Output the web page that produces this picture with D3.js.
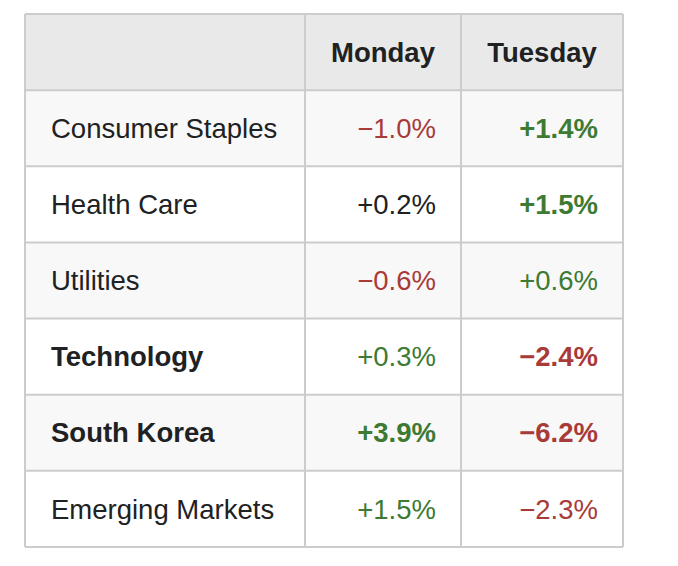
<!DOCTYPE html>
<html><head><meta charset="utf-8">
<script src="https://cdn.jsdelivr.net/npm/d3@7"></script>
<style>body{margin:0;background:#fff}</style></head>
<body><svg id="c" width="678" height="566"></svg>
<script>
const columns = ["", "Monday", "Tuesday"];
const sectors = ["Consumer Staples","Health Care","Utilities","Technology","South Korea","Emerging Markets"];
const monday = [-1.0, 0.2, -0.6, 0.3, 3.9, 1.5];
const tuesday = [1.4, 1.5, 0.6, -2.4, -6.2, -2.3];
const boldRows = ["Technology","South Korea"];
const boldMonday = [false,false,false,false,true,false];
const boldTuesday = [true,true,false,true,true,false];

const svg = d3.select("#c");
const colEdges = [25, 305, 461, 623];
const y = d3.scaleBand().domain(d3.range(7)).range([14, 547]);
const font = "'Liberation Sans', Arial, Helvetica, sans-serif";
const fs = 27.5;
const fmt = v => (v < 0 ? "\u2212" : "+") + Math.abs(v).toFixed(1) + "%";

svg.selectAll("rect.bg").data(d3.range(7)).join("rect")
  .attr("x", colEdges[0]).attr("width", colEdges[3]-colEdges[0])
  .attr("y", i => y(i)).attr("height", y.bandwidth())
  .attr("fill", i => i === 0 ? "#e9e9e9" : (i % 2 === 1 ? "#f8f8f8" : "#ffffff"));

[1,2].forEach(c => svg.append("text").attr("x", (colEdges[c]+colEdges[c+1])/2).attr("y", y(0)+y.bandwidth()/2)
  .attr("dy","0.35em").attr("text-anchor","middle").attr("font-family",font).attr("font-size",fs)
  .attr("font-weight","bold").attr("fill","#202122").text(columns[c]));

const rows = sectors.map((s,i)=>({s,i,m:monday[i],t:tuesday[i]}));
const g = svg.selectAll("g.row").data(rows).join("g").attr("transform", d => `translate(0,${y(d.i+1)+y.bandwidth()/2})`);
g.append("text").attr("x", 51).attr("dy","0.35em").attr("font-family",font).attr("font-size",fs)
  .attr("font-weight", d => boldRows.includes(d.s) ? "bold" : "normal").attr("fill","#202122").text(d => d.s);
g.append("text").attr("x", 436).attr("dy","0.35em").attr("text-anchor","end").attr("font-family",font).attr("font-size",fs)
  .attr("font-weight", d => boldMonday[d.i] ? "bold" : "normal")
  .attr("fill", d => d.m < 0 ? "#a83b38" : (d.m === 0.2 ? "#202122" : "#3d7a33")).text(d => fmt(d.m));
g.append("text").attr("x", 598).attr("dy","0.35em").attr("text-anchor","end").attr("font-family",font).attr("font-size",fs)
  .attr("font-weight", d => boldTuesday[d.i] ? "bold" : "normal")
  .attr("fill", d => d.t < 0 ? "#a83b38" : "#3d7a33").text(d => fmt(d.t));

const line = "#cccccc";
d3.range(8).forEach(i => {
  const yy = i < 7 ? y(i) : 547;
  svg.append("line").attr("x1",colEdges[0]).attr("x2",colEdges[3]).attr("y1",yy).attr("y2",yy).attr("stroke",line).attr("stroke-width",2);
});
colEdges.forEach(x => svg.append("line").attr("x1",x).attr("x2",x).attr("y1",14).attr("y2",547).attr("stroke",line).attr("stroke-width",2));
</script></body></html>
